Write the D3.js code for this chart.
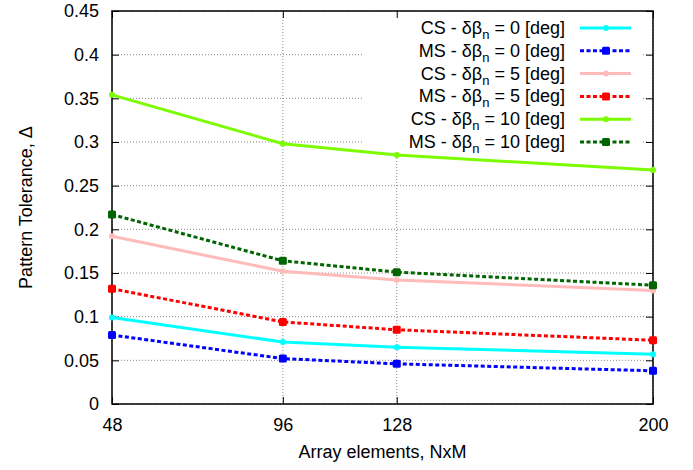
<!DOCTYPE html>
<html>
<head>
<meta charset="utf-8">
<script src="https://cdn.jsdelivr.net/npm/d3@7/dist/d3.min.js"></script>
<style>
  body { margin: 0; background: #fff; }
  text { font-family: "Liberation Sans", Arial, sans-serif; }
</style>
</head>
<body>
<svg id="chart"></svg>
<script>
// data
const xVals = [48, 96, 128, 200]
const csDb0 = [0.099, 0.071, 0.065, 0.057]
const msDb0 = [0.079, 0.052, 0.046, 0.038]
const csDb5 = [0.192, 0.152, 0.142, 0.130]
const msDb5 = [0.132, 0.094, 0.085, 0.073]
const csDb10 = [0.354, 0.298, 0.285, 0.268]
const msDb10 = [0.217, 0.164, 0.151, 0.136]
const yTicks = [0, 0.05, 0.1, 0.15, 0.2, 0.25, 0.3, 0.35, 0.4, 0.45]
const legendPrefix = ['CS', 'MS', 'CS', 'MS', 'CS', 'MS']
const legendDeg = ['0', '0', '5', '5', '10', '10']

const series = [
  {values: csDb0, color: '#00ffff', dashed: false},
  {values: msDb0, color: '#0000ff', dashed: true},
  {values: csDb5, color: '#ffbaba', dashed: false},
  {values: msDb5, color: '#ff0000', dashed: true},
  {values: csDb10, color: '#7cfc00', dashed: false},
  {values: msDb10, color: '#006400', dashed: true}
]

const W = 693, H = 470
const margin = {top: 11, right: 40, bottom: 66, left: 112}
const width = W - margin.left - margin.right
const height = H - margin.top - margin.bottom

const svg = d3.select('#chart')
    .attr('width', W)
    .attr('height', H)

const g = svg.append('g')
    .attr('transform', 'translate(' + margin.left + ',' + margin.top + ')')

const x = d3.scaleLinear().domain([48, 200]).range([0, width])
const y = d3.scaleLinear().domain([0, 0.45]).range([height, 0])

// grid
g.append('g')
    .selectAll('line.gy')
    .data(yTicks)
    .join('line')
    .attr('x1', 0).attr('x2', width)
    .attr('y1', d => y(d)).attr('y2', d => y(d))
    .attr('stroke', '#888').attr('stroke-width', 1)
    .attr('stroke-dasharray', '1,2')

g.append('g')
    .selectAll('line.gx')
    .data(xVals)
    .join('line')
    .attr('x1', d => x(d)).attr('x2', d => x(d))
    .attr('y1', 0).attr('y2', height)
    .attr('stroke', '#888').attr('stroke-width', 1)
    .attr('stroke-dasharray', '1,2')

// legend background hides the grid
const legX = 252, legW = 279, legH = 141
g.append('rect')
    .attr('x', legX).attr('y', 0)
    .attr('width', legW).attr('height', legH)
    .attr('fill', '#fff')

// ticks (inward, mirrored)
const tl = 7
const axisY = d3.axisLeft(y).tickValues(yTicks).tickSize(-tl).tickPadding(tl + 6)
    .tickFormat(d => String(+d.toFixed(2)))
const yAx = g.append('g').call(axisY)
const yAxR = g.append('g').attr('transform', 'translate(' + width + ',0)')
    .call(d3.axisRight(y).tickValues(yTicks).tickSize(-tl).tickFormat(''))
const axisX = d3.axisBottom(x).tickValues(xVals).tickSize(-tl).tickPadding(tl + 7)
const xAx = g.append('g').attr('transform', 'translate(0,' + height + ')').call(axisX)
const xAxT = g.append('g')
    .call(d3.axisTop(x).tickValues(xVals).tickSize(-tl).tickFormat(''))

;[yAx, yAxR, xAx, xAxT].forEach(a => {
  a.select('.domain').remove()
  a.selectAll('line').attr('stroke', '#000').attr('stroke-width', 1)
  a.selectAll('text').attr('font-size', '18px').attr('fill', '#000')
      .style('font-family', '"Liberation Sans", Arial, sans-serif')
})

// border
g.append('rect')
    .attr('width', width).attr('height', height)
    .attr('fill', 'none').attr('stroke', '#000').attr('stroke-width', 1.5)

// lines
const line = d3.line()
    .x((d, i) => x(xVals[i]))
    .y(d => y(d))

function drawMarker(sel, s, cx, cy) {
  if (s.dashed) {
    sel.append('rect')
        .attr('x', cx - 4).attr('y', cy - 4)
        .attr('width', 8).attr('height', 8).attr('rx', 1.5)
        .attr('fill', s.color)
  } else {
    sel.append('circle')
        .attr('cx', cx).attr('cy', cy).attr('r', 3)
        .attr('fill', s.color)
  }
}

series.forEach(s => {
  g.append('path')
      .datum(s.values)
      .attr('fill', 'none')
      .attr('stroke', s.color)
      .attr('stroke-width', 3)
      .attr('stroke-dasharray', s.dashed ? '4,2.5' : null)
      .attr('d', line)
  const mk = g.append('g')
  s.values.forEach((v, i) => drawMarker(mk, s, x(xVals[i]), y(v)))
})

// legend
const leg = g.append('g')
series.forEach((s, i) => {
  const ly = 17 + i * 22.8
  const t = leg.append('text')
      .attr('x', 453).attr('y', ly + 6)
      .attr('text-anchor', 'end')
      .attr('font-size', '18px')
  t.append('tspan').text(legendPrefix[i] + ' - δβ')
  t.append('tspan').attr('dy', 5).attr('font-size', '13px').text('n')
  t.append('tspan').attr('dy', -5).text(' = ' + legendDeg[i] + ' [deg]')
  leg.append('line')
      .attr('x1', 468).attr('x2', 519)
      .attr('y1', ly).attr('y2', ly)
      .attr('stroke', s.color).attr('stroke-width', 3)
      .attr('stroke-dasharray', s.dashed ? '4,2.5' : null)
  drawMarker(leg, s, 494, ly)
})

// axis labels
g.append('text')
    .attr('x', width / 2).attr('y', height + 54)
    .attr('text-anchor', 'middle')
    .attr('font-size', '18px')
    .text('Array elements, NxM')

svg.append('text')
    .attr('transform', 'translate(32,' + (margin.top + height / 2) + ') rotate(-90)')
    .attr('text-anchor', 'middle')
    .attr('font-size', '18px')
    .text('Pattern Tolerance, Δ')
</script>
</body>
</html>
